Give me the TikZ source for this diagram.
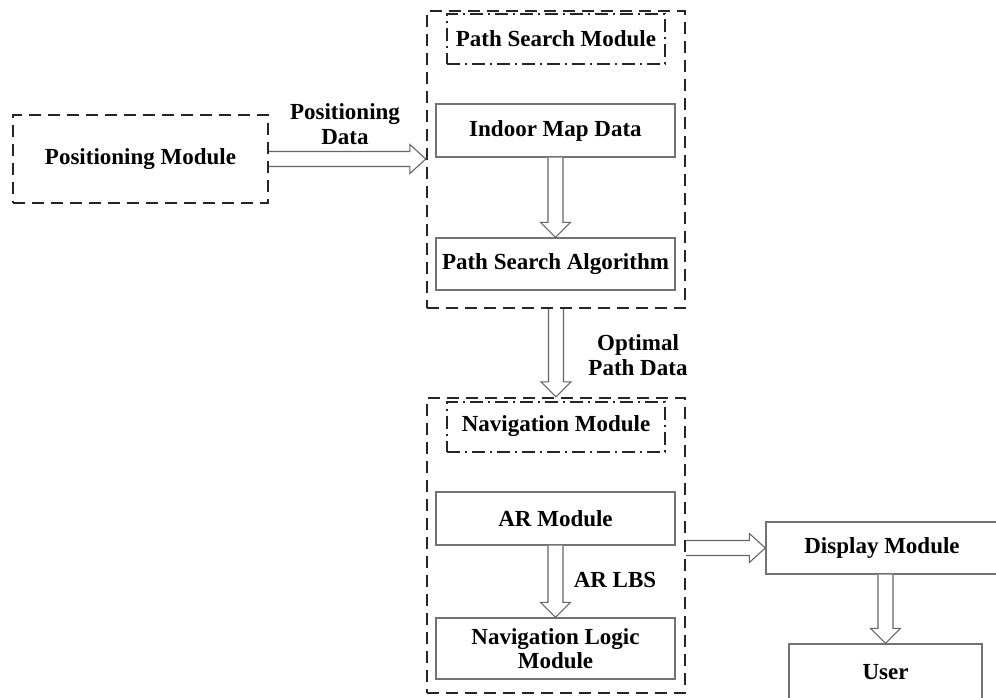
\documentclass[tikz,border=0pt]{standalone}
\usepackage{fontspec}
\setmainfont{Liberation Serif}
\usetikzlibrary{calc}

\tikzset{
  lbl/.style={font=\fontsize{23}{24.5}\selectfont\bfseries, align=center, text=black},
  modbox/.style={draw=black!85, line width=2.3pt, dash pattern=on 12pt off 7pt, lbl},
  subbox/.style={draw=black!85, line width=2pt, dash pattern=on 13pt off 5pt on 2pt off 5pt, lbl},
  plainbox/.style={draw=black!55, line width=1.3pt, lbl},
  hollow/.style={draw=black!60, line width=1.1pt, fill=white, line join=miter},
}

% hollow block arrows: shaft half width 7.5pt, head half width 15pt, head length 15pt
\newcommand\downarrowhol[2]{%
  \draw[hollow] let \p1=(#1), \p2=(#2) in
    (\x1-7.5pt,\y1) -- (\x1-7.5pt,\y2+15pt) -- (\x1-15pt,\y2+15pt) -- (\x1,\y2)
    -- (\x1+15pt,\y2+15pt) -- (\x1+7.5pt,\y2+15pt) -- (\x1+7.5pt,\y1);}
\newcommand\rightarrowhol[2]{%
  \draw[hollow] let \p1=(#1), \p2=(#2) in
    (\x1,\y1+7.5pt) -- (\x2-16pt,\y1+7.5pt) -- (\x2-16pt,\y1+14.5pt) -- (\x2,\y1)
    -- (\x2-16pt,\y1-14.5pt) -- (\x2-16pt,\y1-7.5pt) -- (\x1,\y1-7.5pt);}

\begin{document}
\begin{tikzpicture}[x=1pt, y=-1pt]
  \useasboundingbox (0,0) rectangle (996,698);
  \clip (0,0) rectangle (996,698);

  % positioning
  \node[modbox, minimum width=255pt, minimum height=88pt] (pos) at (140.5,159) {Positioning Module};

  % path search module group
  \node[modbox, minimum width=258pt, minimum height=297pt] (pso) at (556,159.5) {};
  \node[subbox, minimum width=218pt, minimum height=50pt] (psm) at (556,39) {Path Search Module};
  \node[plainbox, minimum width=239pt, minimum height=53pt] (indoor) at (555.5,130.5) {Indoor Map Data};
  \node[plainbox, minimum width=239pt, minimum height=52pt] (algo) at (555.5,264) {Path Search Algorithm};

  % navigation module group
  \node[modbox, minimum width=258pt, minimum height=295pt] (nav) at (556,545.5) {};
  \node[subbox, minimum width=218pt, minimum height=50pt] (navm) at (556,426.5) {Navigation Module};
  \node[plainbox, minimum width=239pt, minimum height=53pt] (ar) at (555.5,518.5) {AR Module};
  \node[plainbox, minimum width=239pt, minimum height=61pt] (logic) at (555.5,648.5) {Navigation Logic\\Module};

  % output side
  \node[plainbox, minimum width=232pt, minimum height=52pt] (disp) at (882,548) {Display Module};
  \node[plainbox, minimum width=193pt, minimum height=56pt] (user) at (885.5,672) {User};

  % arrows
  \coordinate (posend) at (pso.west |- pos.east);
  \rightarrowhol{pos.east}{posend}
  \downarrowhol{indoor.south}{algo.north}
  \downarrowhol{pso.south}{nav.north}
  \downarrowhol{ar.south}{logic.north}
  \coordinate (arstart) at (nav.east |- disp.west);
  \rightarrowhol{arstart}{disp.west}
  \coordinate (dispout) at (user.north |- disp.south);
  \downarrowhol{dispout}{user.north}

  % arrow labels
  \node[lbl] (l1) at (345,124) {Positioning\\Data};
  \node[lbl] (l2) at (638,355) {Optimal\\Path Data};
  \node[lbl] (l3) at (615,580) {AR LBS};
\end{tikzpicture}
\end{document}
